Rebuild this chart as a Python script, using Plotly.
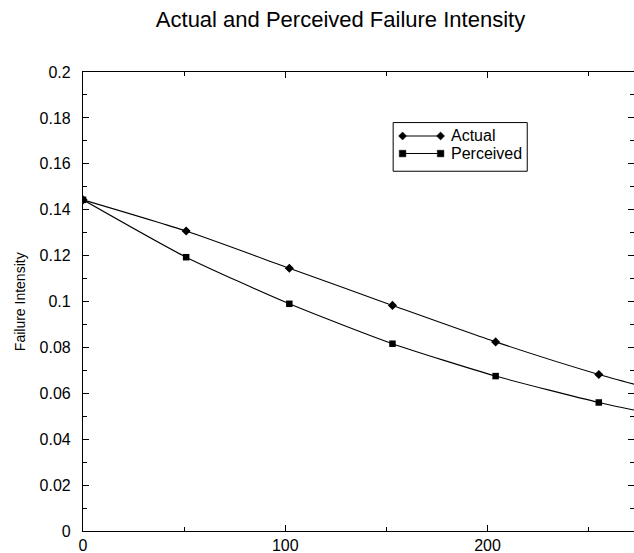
import plotly.graph_objects as go

# Data
x_points = [0, 51, 102, 153, 204, 255]
actual = [0.1443, 0.1307, 0.1145, 0.0983, 0.0824, 0.0682]
perceived = [0.1443, 0.1193, 0.0990, 0.0816, 0.0675, 0.0560]
# curve continues to the right edge of the plot
x_line = x_points + [272.4]
actual_line = actual + [0.0640]
perceived_line = perceived + [0.0527]

series_names = ["Actual", "Perceived"]
x_ticks = [0, 100, 200]
y_ticks = [0, 0.02, 0.04, 0.06, 0.08, 0.1, 0.12, 0.14, 0.16, 0.18, 0.2]
y_tick_labels = ["0", "0.02", "0.04", "0.06", "0.08", "0.1", "0.12", "0.14", "0.16", "0.18", "0.2"]

FONT = "Liberation Sans, Arial, Helvetica, sans-serif"
fig = go.Figure()

for yl, yp, sym, sz in [(actual_line, actual, "diamond", 7), (perceived_line, perceived, "square", 6.5)]:
    fig.add_trace(go.Scatter(x=x_line, y=yl, mode="lines",
                             line=dict(color="black", width=1.1, shape="spline", smoothing=0.6),
                             showlegend=False, hoverinfo="skip"))
    fig.add_trace(go.Scatter(x=x_points, y=yp, mode="markers",
                             marker=dict(symbol=sym, size=sz, color="black"),
                             showlegend=False))

# manual legend (box, sample lines with two markers, labels)
def px2paper(px, py):
    return (px - 83.3) / 550.7, (531 - py) / 459.3

shapes = []
annotations = []
bx0, by0 = px2paper(393.3, 171)
bx1, by1 = px2paper(527.3, 122.3)
shapes.append(dict(type="rect", xref="paper", yref="paper", x0=bx0, y0=by0, x1=bx1, y1=by1,
                   line=dict(color="black", width=1), fillcolor="white", layer="above"))
for i, (name, py) in enumerate(zip(series_names, [135.7, 153.3])):
    lx0, ly = px2paper(402.7, py)
    lx1, _ = px2paper(440.7, py)
    shapes.append(dict(type="line", xref="paper", yref="paper", x0=lx0, x1=lx1, y0=ly, y1=ly,
                       line=dict(color="black", width=1.1), layer="above"))
    for cx in (402.7, 440.7):
        if i == 0:
            d = 4.0
            path = f"M{cx - d},{py} L{cx},{py - d} L{cx + d},{py} L{cx},{py + d} Z"
        else:
            d = 3.3
            path = f"M{cx - d},{py - d} L{cx + d},{py - d} L{cx + d},{py + d} L{cx - d},{py + d} Z"
        pts = []
        for tok in path.replace("M", " M ").replace("L", " L ").replace("Z", " Z ").split():
            if tok in ("M", "L", "Z"):
                pts.append(tok)
            else:
                a, b = tok.split(",")
                qx, qy = px2paper(float(a), float(b))
                pts.append(f"{qx:.5f},{qy:.5f}")
        shapes.append(dict(type="path", xref="paper", yref="paper", path=" ".join(pts),
                           fillcolor="black", line=dict(color="black", width=0.5), layer="above"))
    tx, ty = px2paper(449.3, py)
    annotations.append(dict(text=name, xref="paper", yref="paper", x=tx, y=ty,
                            xanchor="left", yanchor="middle", showarrow=False,
                            font=dict(family=FONT, size=16, color="black")))

annotations.append(dict(text="Failure Intensity", xref="paper", yref="paper",
                        x=(20 - 83.3) / 550.7, y=0.5, textangle=-90, showarrow=False,
                        xanchor="center", yanchor="middle",
                        font=dict(family=FONT, size=14, color="black")))

axis_common = dict(showgrid=False, zeroline=False, showline=True, linecolor="black", linewidth=1.2,
                   mirror="allticks", ticks="inside", ticklen=6, tickwidth=1, tickcolor="black",
                   tickfont=dict(family=FONT, size=16, color="black"))

fig.update_layout(
    width=634, height=553,
    margin=dict(l=83, r=0, t=72, b=22),
    paper_bgcolor="white", plot_bgcolor="white",
    title=dict(text="Actual and Perceived Failure Intensity", x=340.5 / 634, xanchor="center",
               xref="container", yref="container", y=1 - 19 / 553, yanchor="middle",
               font=dict(family=FONT, size=22, color="black")),
    xaxis=dict(range=[0, 272.4], tickvals=x_ticks, ticktext=[str(v) for v in x_ticks],
               minor=dict(dtick=50, tick0=0, ticks="inside", ticklen=4, tickcolor="black", tickwidth=1),
               **axis_common),
    yaxis=dict(range=[0, 0.2], tickvals=y_ticks, ticktext=y_tick_labels,
               minor=dict(dtick=0.01, tick0=0, ticks="inside", ticklen=4, tickcolor="black", tickwidth=1),
               ticklabelstandoff=8,
               **axis_common),
    shapes=shapes, annotations=annotations, showlegend=False,
)

fig.write_html("out.html", config={"displayModeBar": False},
               post_script="document.body.style.margin='0';document.body.style.overflow='hidden';")
